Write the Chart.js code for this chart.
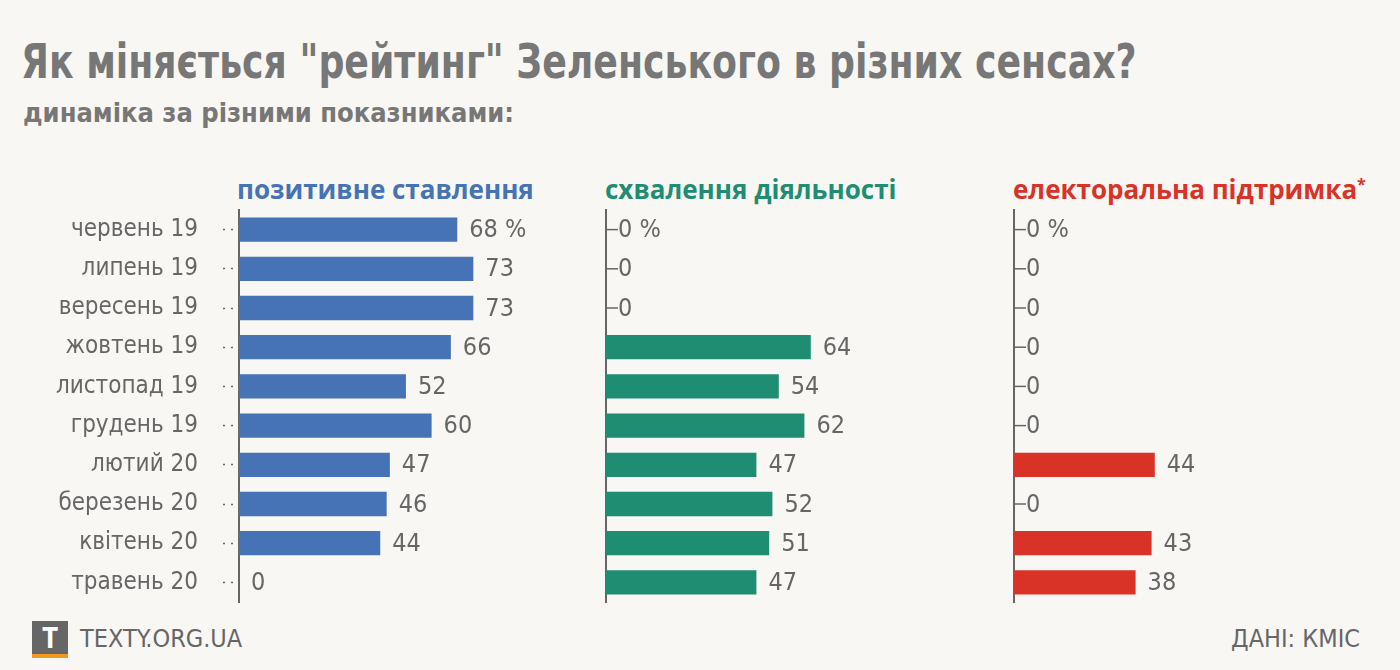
<!DOCTYPE html>
<html>
<head>
<meta charset="utf-8">
<script src="https://cdn.jsdelivr.net/npm/chart.js@4"></script>
<style>
  body { margin: 0; background: #f8f7f3; width: 1400px; height: 670px; overflow: hidden; position: relative;
         font-family: 'Liberation Sans Narrow', 'DejaVu Sans Condensed', 'Roboto', sans-serif; color: #666; }
  .title { position: absolute; left: 21px; top: 33px; font-size: 48px; font-weight: bold; color: #777; white-space: nowrap;
           transform: scaleX(0.84); transform-origin: left top; }
  .subtitle { position: absolute; left: 23px; top: 97px; font-size: 27px; font-weight: bold; color: #777; white-space: nowrap; }
  .head { position: absolute; top: 171px; font-family: 'Open Sans', sans-serif; font-weight: bold; font-size: 26px; white-space: nowrap; }
  .head sup { font-size: 16px; vertical-align: top; position: relative; top: 2px; }
  .panel { position: absolute; top: 200px; height: 412px; }
  .logo { position: absolute; left: 32px; top: 621px; width: 36px; height: 37px; background: #666; border-bottom: 4px solid #f39a1e; box-sizing: border-box;
          color: #fff; font-family: 'Open Sans', sans-serif; font-weight: bold; font-size: 28px; text-align: center; line-height: 33px; }
  .site { position: absolute; left: 80px; top: 624px; font-size: 25px; color: #666; }
  .source { position: absolute; right: 40px; top: 624px; font-size: 25px; color: #666; }
</style>
</head>
<body>
<div class="title">Як міняється "рейтинг" Зеленського в різних сенсах?</div>
<div class="subtitle">динаміка за різними показниками:</div>
<div class="head" style="left:237px;color:#4573b5">позитивне ставлення</div>
<div class="head" style="left:605px;color:#1f8d72">схвалення діяльності</div>
<div class="head" style="left:1013px;color:#d93328">електоральна підтримка<sup>*</sup></div>

<div class="panel" style="left:0;width:560px"><canvas id="c1"></canvas></div>
<div class="panel" style="left:596px;width:330px"><canvas id="c2"></canvas></div>
<div class="panel" style="left:1004px;width:330px"><canvas id="c3"></canvas></div>

<div class="logo">T</div>
<div class="site">TEXTY.ORG.UA</div>
<div class="source">ДАНІ: КМІС</div>

<script>
const months = ['червень 19', 'липень 19', 'вересень 19', 'жовтень 19', 'листопад 19',
                'грудень 19', 'лютий 20', 'березень 20', 'квітень 20', 'травень 20'];
const positive = [68, 73, 73, 66, 52, 60, 47, 46, 44, 0];
const approval = [0, 0, 0, 64, 54, 62, 47, 52, 51, 47];
const electoral = [0, 0, 0, 0, 0, 0, 44, 0, 43, 38];

const narrow = "'Liberation Sans Narrow', 'DejaVu Sans Condensed', sans-serif";

// Value labels after the bars, with a little dash for zeros
const valueLabels = {
    id: 'valueLabels',
    afterDatasetsDraw(chart, args, opts) {
        const ctx = chart.ctx;
        const meta = chart.getDatasetMeta(0);
        const data = chart.data.datasets[0].data;
        const x0 = chart.scales.x.getPixelForValue(0);
        ctx.save();
        ctx.font = `25px ${narrow}`;
        ctx.fillStyle = '#666';
        ctx.textBaseline = 'middle';
        meta.data.forEach((bar, i) => {
            const v = data[i];
            if (v === 0 && opts.zeroDash) {
                ctx.strokeStyle = '#666';
                ctx.lineWidth = 1.5;
                ctx.beginPath();
                ctx.moveTo(x0, bar.y);
                ctx.lineTo(x0 + 12, bar.y);
                ctx.stroke();
            }
            const txt = i === 0 ? v + ' %' : String(v);
            ctx.fillText(txt, bar.x + 12, bar.y + 1);
        });
        ctx.restore();
    }
};

function makeChart(id, values, color, axisWidth, showLabels, zeroDash) {
    return new Chart(document.getElementById(id), {
        type: 'bar',
        data: {
            labels: months,
            datasets: [{
                data: values,
                backgroundColor: color,
                borderWidth: 0,
                categoryPercentage: 1,
                barPercentage: 0.62
            }]
        },
        options: {
            indexAxis: 'y',
            responsive: true,
            maintainAspectRatio: false,
            animation: false,
            layout: { padding: { top: 10, bottom: 10, left: 0, right: 0 } },
            plugins: {
                legend: { display: false },
                tooltip: { enabled: false },
                valueLabels: { zeroDash: zeroDash }
            },
            scales: {
                x: { display: false, min: 0, max: 100 },
                y: {
                    afterFit(scale) {
                        scale.width = axisWidth;
                        scale.paddingTop = 0;
                        scale.paddingBottom = 0;
                    },
                    border: { display: true, color: '#666', width: 2 },
                    grid: {
                        offset: false,
                        drawOnChartArea: false,
                        drawTicks: showLabels,
                        tickLength: 16,
                        tickColor: '#666',
                        tickWidth: 1.5,
                        tickBorderDash: [2, 6]
                    },
                    ticks: {
                        display: showLabels,
                        color: '#666',
                        padding: 25,
                        font: { size: 24, family: narrow }
                    }
                }
            }
        },
        plugins: [valueLabels]
    });
}

makeChart('c1', positive, '#4573b5', 239, true, false);
makeChart('c2', approval, '#1f8d72', 10, false, true);
makeChart('c3', electoral, '#d93328', 10, false, true);
</script>
</body>
</html>
